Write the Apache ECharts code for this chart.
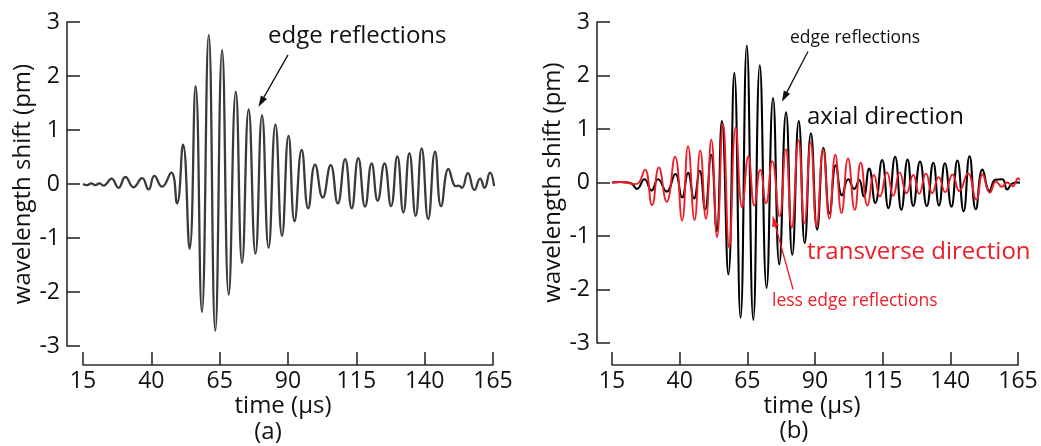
<!DOCTYPE html>
<html>
<head>
<meta charset="utf-8">
<script src="https://cdn.jsdelivr.net/npm/echarts@6/dist/echarts.min.js"></script>
<style>
html,body{margin:0;padding:0;background:#fff;}
#chart{width:1041px;height:446px;}
</style>
</head>
<body>
<div id="chart"></div>
<script>
// ---------- data ----------
const xTicks = [15, 40, 65, 90, 115, 140, 165];

// (a) single measurement
const aTime = [15,16.5,18,19.5,21,22.5,23.5,25.4,28.0,30.5,33.5,36.6,39.0,41.1,43.9,47.3,49.4,51.6,54.0,56.2,58.5,61.0,63.4,65.9,68.3,70.9,73.2,75.6,78.1,80.5,82.9,85.4,87.8,90.2,92.4,95.0,97.4,99.9,102.7,105.6,108.2,110.9,113.3,115.7,118.2,120.6,122.8,125.3,127.7,130.0,132.2,134.4,136.7,138.9,141.3,143.8,146.0,148.7,150.5,151.4,152.5,153.6,155.8,158.2,160.3,161.9,163.9,165.4];
const aShift = [0,-0.02,0.01,-0.02,0.01,-0.03,0.0,0.1,-0.07,0.13,-0.06,0.11,-0.1,0.15,-0.05,0.21,-0.36,0.73,-1.2,1.81,-2.37,2.76,-2.72,2.48,-2.05,1.71,-1.46,1.38,-1.29,1.27,-1.18,1.1,-0.96,0.89,-0.69,0.63,-0.45,0.36,-0.25,0.35,-0.36,0.46,-0.45,0.48,-0.42,0.38,-0.31,0.38,-0.41,0.51,-0.53,0.57,-0.59,0.66,-0.65,0.6,-0.41,0.28,0.01,-0.04,-0.03,-0.07,0.2,-0.11,0.1,-0.07,0.21,-0.04];

// (b) axial direction
const axTime = [15,18,21,22.5,24.2,27.0,29.6,32.0,35.2,38.4,40.9,43.1,45.3,47.4,49.4,51.6,53.7,55.6,58.0,60.2,62.5,64.8,67.2,69.6,72.1,74.5,76.8,79.3,81.6,84.0,86.2,88.5,90.8,93.1,95.4,97.7,100.0,102.3,104.5,106.3,108.0,110.0,112.3,114.8,117.1,119.6,121.9,124.2,126.3,128.8,131.3,133.7,135.8,138.0,140.4,142.6,144.9,147.1,149.4,151.9,154.5,156.6,159.2,161.0,162.8,164.8,167.5];
const axShift = [0,0.01,0,-0.03,-0.12,0.06,-0.15,0.06,-0.17,0.16,-0.28,0.18,-0.3,0.22,-0.5,0.52,-0.91,1.15,-1.72,2.05,-2.53,2.56,-2.57,2.19,-1.97,1.58,-1.53,1.31,-1.35,1.15,-1.13,0.92,-0.88,0.65,-0.58,0.32,-0.24,0.06,-0.12,0.05,-0.26,0.26,-0.38,0.42,-0.48,0.48,-0.51,0.43,-0.44,0.39,-0.44,0.37,-0.43,0.36,-0.45,0.41,-0.54,0.49,-0.5,0.24,-0.16,0.05,0.06,-0.13,-0.02,0.0,-0.03];

// (b) transverse direction
const trTime = [15,18,21,23.5,25,27.2,29.8,32.3,35.2,38.3,40.9,43.1,45.5,47.6,49.7,51.7,53.8,56.0,58.3,60.7,63.1,65.4,67.6,69.8,71.9,74.2,76.9,79.2,81.4,83.9,86.1,88.4,90.6,93.0,95.3,97.5,99.8,102.2,104.7,106.9,109.4,111.8,114.0,116.6,118.9,121.3,123.8,126.3,128.5,131.0,133.3,135.7,138.1,140.8,143.3,146.5,149.6,151.9,154.6,156.9,159.0,161.0,163.0,165.0,167.6];
const trShift = [0,0.01,-0.01,-0.03,0,0.24,-0.42,0.28,-0.36,0.48,-0.71,0.68,-0.7,0.6,-0.68,0.8,-1.02,1.1,-1.22,1.03,-0.46,0.49,-0.43,0.24,-0.39,0.4,-0.63,0.62,-0.84,0.79,-0.76,0.75,-0.82,0.62,-0.68,0.52,-0.57,0.45,-0.51,0.37,-0.43,0.14,-0.26,0.19,-0.25,0.19,-0.2,0.14,-0.21,0.17,-0.2,0.1,-0.18,0.15,-0.16,0.17,-0.32,0.15,-0.19,0.02,-0.08,0.0,-0.07,0.08,-0.24];

// ---------- build ----------
const zip = (t, v) => t.map((x, i) => [x, v[i]]);
const FONT = '"Open Sans", "Noto Sans", sans-serif';
const AX = '#2b2b2b';
const RED = '#ee1c25';

function xAxisCfg(gi, offset) {
  return {
    gridIndex: gi, type: 'value', min: 15, max: 165, offset: offset, position: 'bottom',
    axisLine: { show: true, onZero: false, lineStyle: { color: AX, width: 1.6 } },
    axisTick: { show: true, inside: true, length: 13, customValues: xTicks, lineStyle: { color: AX, width: 1.6 } },
    axisLabel: { customValues: xTicks, margin: 5, color: '#111', fontSize: 23, fontFamily: FONT },
    splitLine: { show: false }
  };
}
function yAxisCfg(gi, offset) {
  return {
    gridIndex: gi, type: 'value', min: -3, max: 3, interval: 1, offset: offset, position: 'left',
    name: 'wavelength shift (pm)', nameLocation: 'middle', nameGap: 30,
    nameTextStyle: { color: '#111', fontSize: 24, fontFamily: FONT },
    axisLine: { show: true, onZero: false, lineStyle: { color: AX, width: 1.6 } },
    axisTick: { show: true, inside: true, length: 13, lineStyle: { color: AX, width: 1.6 } },
    axisLabel: { margin: 7, color: '#111', fontSize: 23, fontFamily: FONT },
    splitLine: { show: false }
  };
}
function arrow(color, from, to) {
  return {
    silent: true, animation: false,
    symbol: ['none', 'triangle'], symbolSize: [7, 11],
    lineStyle: { color: color, width: 1.3, type: 'solid' },
    itemStyle: { color: color },
    label: { show: false },
    data: [[{ coord: from }, { coord: to }]]
  };
}
function txt(x, y, s, size, color, align) {
  return { type: 'text', x: x, y: y, style: { text: s, fontSize: size, fontFamily: FONT, fill: color || '#111', textAlign: align || 'left', textVerticalAlign: 'middle' } };
}

const option = {
  animation: false,
  backgroundColor: '#fff',
  grid: [
    { left: 83, top: 22, width: 410, height: 324 },
    { left: 612, top: 22, width: 406, height: 321 }
  ],
  xAxis: [xAxisCfg(0, 19), xAxisCfg(1, 22)],
  yAxis: [yAxisCfg(0, 16), yAxisCfg(1, 15)],
  series: [
    {
      type: 'line', xAxisIndex: 0, yAxisIndex: 0, data: zip(aTime, aShift),
      showSymbol: false, smooth: 0.5, clip: false,
      lineStyle: { color: '#3a3a3a', width: 2.3 },
      markLine: arrow('#111', [90.0, 2.39], [80.2, 1.52])
    },
    {
      type: 'line', xAxisIndex: 1, yAxisIndex: 1, data: zip(axTime, axShift),
      showSymbol: false, smooth: 0.5, clip: false,
      lineStyle: { color: '#000', width: 2.1 },
      markLine: arrow('#111', [87.4, 2.45], [78.7, 1.6])
    },
    {
      type: 'line', xAxisIndex: 1, yAxisIndex: 1, data: zip(trTime, trShift),
      showSymbol: false, smooth: 0.5, clip: false,
      lineStyle: { color: RED, width: 1.9 },
      markLine: arrow(RED, [81.9, -2.0], [74.9, -0.72])
    }
  ],
  graphic: [
    txt(268, 36, 'edge reflections', 24),
    txt(283, 406, 'time (µs)', 24, '#111', 'center'),
    txt(268, 432, '(a)', 24, '#111', 'center'),
    txt(790, 38, 'edge reflections', 17.5),
    txt(807, 117, 'axial direction', 24),
    txt(807, 252, 'transverse direction', 24, RED),
    txt(772, 301, 'less edge reflections', 17.5, RED),
    txt(812, 406, 'time (µs)', 24, '#111', 'center'),
    txt(794, 431, '(b)', 24, '#111', 'center')
  ]
};
const chart = echarts.init(document.getElementById('chart'), null, { renderer: 'canvas' });
chart.setOption(option);
</script>
</body>
</html>
